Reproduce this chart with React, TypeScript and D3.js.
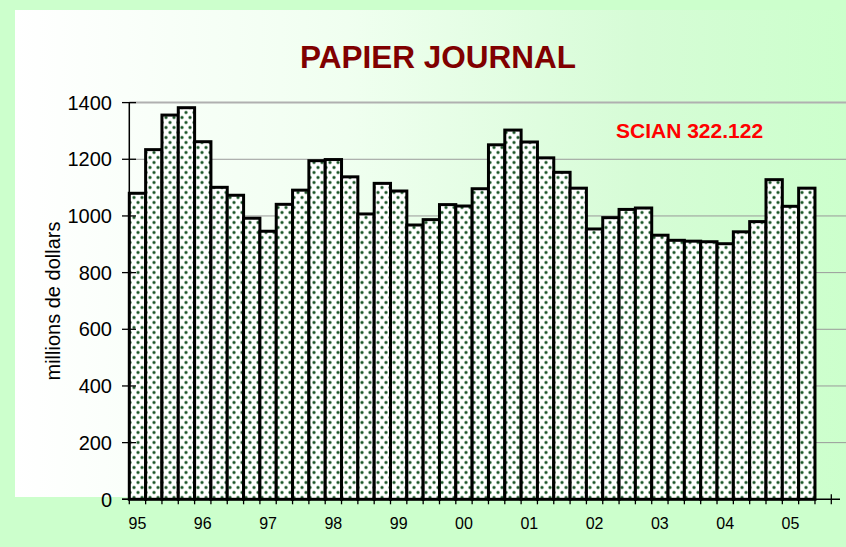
import React from "react";
import * as d3 from "d3";

const yearLabels = ["95", "96", "97", "98", "99", "00", "01", "02", "03", "04", "05"];
const quarterlyValues = [
  1080, 1234, 1356, 1382,
  1262, 1101, 1073, 992,
  946, 1041, 1091, 1195,
  1199, 1138, 1007, 1115,
  1088, 968, 987, 1040,
  1035, 1096, 1251, 1303,
  1261, 1205, 1154, 1098,
  954, 994, 1023, 1028,
  932, 914, 911, 909,
  902, 944, 980, 1128,
  1034, 1098,
];
const yTicks = [0, 200, 400, 600, 800, 1000, 1200, 1400];

const W = 846;
const H = 547;
const NARROW = "'Liberation Sans Narrow', 'Arial Narrow', 'Liberation Sans', Arial, sans-serif";
const ARIAL = "'Liberation Sans', Arial, sans-serif";

export default function App() {
  const slots = quarterlyValues.length + 1;
  const x = d3.scaleLinear().domain([0, slots]).range([129.3, 831.3]);
  const y = d3.scaleLinear().domain([0, 1400]).range([499.3, 102.6]);
  const bw = x(1) - x(0);

  return (
    <svg
      width={W}
      height={H}
      style={{ position: "absolute", left: 0, top: 0, display: "block" }}
    >
      <defs>
        <linearGradient id="panelGrad" x1="0" y1="0" x2="1" y2="0">
          <stop offset="0%" stopColor="#ffffff" />
          <stop offset="40%" stopColor="#f0fff0" />
          <stop offset="75%" stopColor="#d6fcd6" />
          <stop offset="100%" stopColor="#ccffcc" />
        </linearGradient>
        <pattern id="dots" width="8" height="10" patternUnits="userSpaceOnUse">
          <rect width="8" height="10" fill="#ffffff" />
          <circle cx="2" cy="2.5" r="2" fill="#a9c2ae" />
          <circle cx="2" cy="2.5" r="1.25" fill="#1c5529" />
          <circle cx="6" cy="7.5" r="2" fill="#a9c2ae" />
          <circle cx="6" cy="7.5" r="1.25" fill="#1c5529" />
        </pattern>
      </defs>
      <rect x={0} y={0} width={W} height={H} fill="#ccffcc" />
      <rect x={15} y={10} width={W - 15} height={487} fill="url(#panelGrad)" />

      {/* title */}
      <text
        x={438}
        y={68}
        textAnchor="middle"
        fontFamily={ARIAL}
        fontWeight="bold"
        fontSize={31.5}
        fill="#800000"
      >
        PAPIER JOURNAL
      </text>

      {/* gridlines */}
      {yTicks
        .filter((t) => t > 0)
        .map((t) => (
          <line
            key={"g" + t}
            x1={x(0)}
            x2={W}
            y1={y(t)}
            y2={y(t)}
            stroke={t === 1400 ? "#b0b0b0" : "#9a9a9a"}
            strokeWidth={t === 1400 ? 2 : 1}
          />
        ))}

      {/* bars */}
      {quarterlyValues.map((v, i) => (
        <rect
          key={"b" + i}
          x={x(i)}
          y={y(v)}
          width={bw}
          height={y(0) - y(v)}
          fill="url(#dots)"
          stroke="#000"
          strokeWidth={3}
        />
      ))}

      {/* SCIAN label */}
      <text x={616} y={138} fontFamily={ARIAL} fontWeight="bold" fontSize={21} fill="#ff0000">
        SCIAN 322.122
      </text>

      {/* y axis */}
      <line x1={x(0)} x2={x(0)} y1={y(1400)} y2={y(0)} stroke="#000" strokeWidth={1.5} />
      {yTicks.map((t) => (
        <g key={"yt" + t}>
          <line x1={122} x2={136} y1={y(t)} y2={y(t)} stroke="#000" strokeWidth={1.3} />
          <text
            x={112}
            y={y(t)}
            dy="0.36em"
            textAnchor="end"
            fontFamily={NARROW}
            fontSize={20}
            fill="#000"
          >
            {t}
          </text>
        </g>
      ))}
      <text
        transform={`translate(59.5,301) rotate(-90)`}
        textAnchor="middle"
        fontFamily={NARROW}
        fontSize={20}
        fill="#000"
      >
        millions de dollars
      </text>

      {/* x axis */}
      <line x1={122} x2={840} y1={y(0)} y2={y(0)} stroke="#000" strokeWidth={1.5} />
      {d3.range(slots + 1).map((i) => (
        <line
          key={"xt" + i}
          x1={x(i)}
          x2={x(i)}
          y1={i === slots ? y(0) - 5 : y(0)}
          y2={y(0) + 5}
          stroke="#000"
          strokeWidth={1.3}
        />
      ))}
      {yearLabels.map((lab, k) => (
        <text
          key={"xl" + lab}
          x={x(k * 4) + bw / 2}
          y={529}
          textAnchor="middle"
          fontFamily={NARROW}
          fontSize={16}
          fill="#000"
        >
          {lab}
        </text>
      ))}
    </svg>
  );
}
